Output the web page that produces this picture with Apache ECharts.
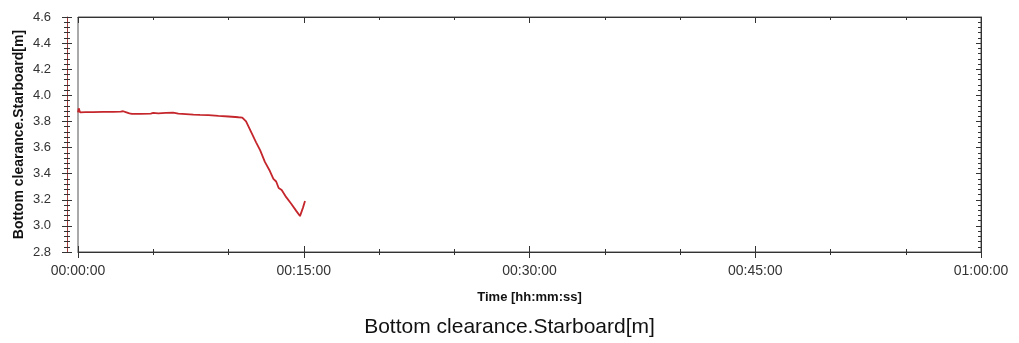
<!DOCTYPE html>
<html>
<head>
<meta charset="utf-8">
<script src="https://cdn.jsdelivr.net/npm/echarts@6/dist/echarts.min.js"></script>
<style>
  html, body { margin: 0; padding: 0; background: #fff; }
  #chart { width: 1019px; height: 343px; }
</style>
</head>
<body>
<div id="chart"></div>
<script>
// time in seconds since start
var times = [0, 3, 8, 30, 60, 100, 140, 170, 180, 190, 205, 215, 250, 290, 300, 320, 350, 379, 400, 430,
  460, 486, 520, 560, 600, 640, 655, 670, 690, 710, 726, 745, 765, 779, 790, 800, 812, 830, 850, 870,
  885, 890, 897, 905];
// bottom clearance starboard [m]
var clearance = [3.87, 3.90, 3.87, 3.872, 3.872, 3.873, 3.873, 3.875, 3.878, 3.872, 3.862, 3.858, 3.858, 3.86, 3.866, 3.862, 3.866, 3.868, 3.86, 3.856,
  3.852, 3.85, 3.848, 3.842, 3.838, 3.832, 3.83, 3.80, 3.72, 3.64, 3.58, 3.49, 3.42, 3.36, 3.34, 3.29, 3.275, 3.22, 3.17, 3.115,
  3.075, 3.09, 3.14, 3.19];

var FONT = '"Liberation Sans", Arial, sans-serif';

var pad = function(n){ return n < 10 ? '0' + n : '' + n; };
var hms = function(s){
  s = Math.round(s);
  return pad(Math.floor(s / 3600)) + ':' + pad(Math.floor(s % 3600 / 60)) + ':' + pad(s % 60);
};

var points = [];
for (var i = 0; i < times.length; i++) points.push([times[i], clearance[i]]);

var xBase = { type: 'value', min: 0, max: 3600, interval: 900, splitLine: { show: false } };
var yBase = { type: 'value', min: 2.8, max: 4.6, interval: 0.2, splitLine: { show: false } };
var ext = function(a, b){ var o = {}; for (var k in a) o[k] = a[k]; for (var k2 in b) o[k2] = b[k2]; return o; };

var chart = echarts.init(document.getElementById('chart'));
chart.setOption({
  animation: false,
  title: {
    text: 'Bottom clearance.Starboard[m]',
    left: 'center', top: 312,
    textStyle: { fontFamily: FONT, fontSize: 21, fontWeight: 'normal', color: '#111' }
  },
  grid: { left: 78, right: 38, top: 17, bottom: 91, show: true, borderColor: '#555', borderWidth: 1 },
  xAxis: [
    ext(xBase, {
      position: 'bottom',
      name: 'Time [hh:mm:ss]', nameLocation: 'middle', nameGap: 39,
      nameTextStyle: { fontFamily: FONT, fontSize: 13, fontWeight: 'bold', color: '#111' },
      axisLine: { onZero: false, lineStyle: { color: '#333', width: 1 } },
      axisTick: { inside: false, length: 6, lineStyle: { color: '#333' } },
      minorTick: { show: true, splitNumber: 3, length: 3, lineStyle: { color: '#333' } },
      axisLabel: { margin: 12, fontFamily: FONT, fontSize: 14, color: '#333', formatter: hms }
    }),
    ext(xBase, {
      position: 'bottom',
      axisLine: { show: false, onZero: false },
      axisTick: { inside: true, length: 6, lineStyle: { color: '#333' } },
      minorTick: { show: true, splitNumber: 3, length: 3, lineStyle: { color: '#333' } },
      axisLabel: { show: false }
    }),
    ext(xBase, {
      position: 'top',
      axisLine: { onZero: false, lineStyle: { color: '#333' } },
      axisTick: { inside: true, length: 6, lineStyle: { color: '#333' } },
      minorTick: { show: true, splitNumber: 3, length: 3, lineStyle: { color: '#333' } },
      axisLabel: { show: false }
    })
  ],
  yAxis: [
    ext(yBase, {
      position: 'left', offset: 11,
      name: 'Bottom clearance.Starboard[m]', nameLocation: 'middle', nameGap: 41,
      nameMoveOverlap: false,
      nameTextStyle: { fontFamily: FONT, fontSize: 14, fontWeight: 'bold', color: '#111' },
      axisLine: { onZero: false, lineStyle: { color: '#a33a3a', width: 1 } },
      axisTick: { inside: false, length: 5, lineStyle: { color: '#333' } },
      minorTick: { show: true, splitNumber: 5, length: 3, lineStyle: { color: '#333' } },
      axisLabel: { margin: 16, fontFamily: FONT, fontSize: 13, color: '#333',
        formatter: function(v){ return v.toFixed(1); } }
    }),
    ext(yBase, {
      position: 'left', offset: 11,
      axisLine: { show: false, onZero: false },
      axisTick: { inside: true, length: 5, lineStyle: { color: '#333' } },
      minorTick: { show: true, splitNumber: 5, length: 3, lineStyle: { color: '#333' } },
      axisLabel: { show: false }
    }),
    ext(yBase, {
      position: 'right',
      axisLine: { show: true, onZero: false, lineStyle: { color: '#333' } },
      axisTick: { inside: true, length: 5, lineStyle: { color: '#333' } },
      minorTick: { show: true, splitNumber: 5, length: 3, lineStyle: { color: '#333' } },
      axisLabel: { show: false }
    })
  ],
  series: [{
    type: 'line',
    xAxisIndex: 0, yAxisIndex: 0,
    data: points,
    showSymbol: false,
    lineStyle: { color: '#c4262c', width: 1.8 }
  }]
});
</script>
</body>
</html>
